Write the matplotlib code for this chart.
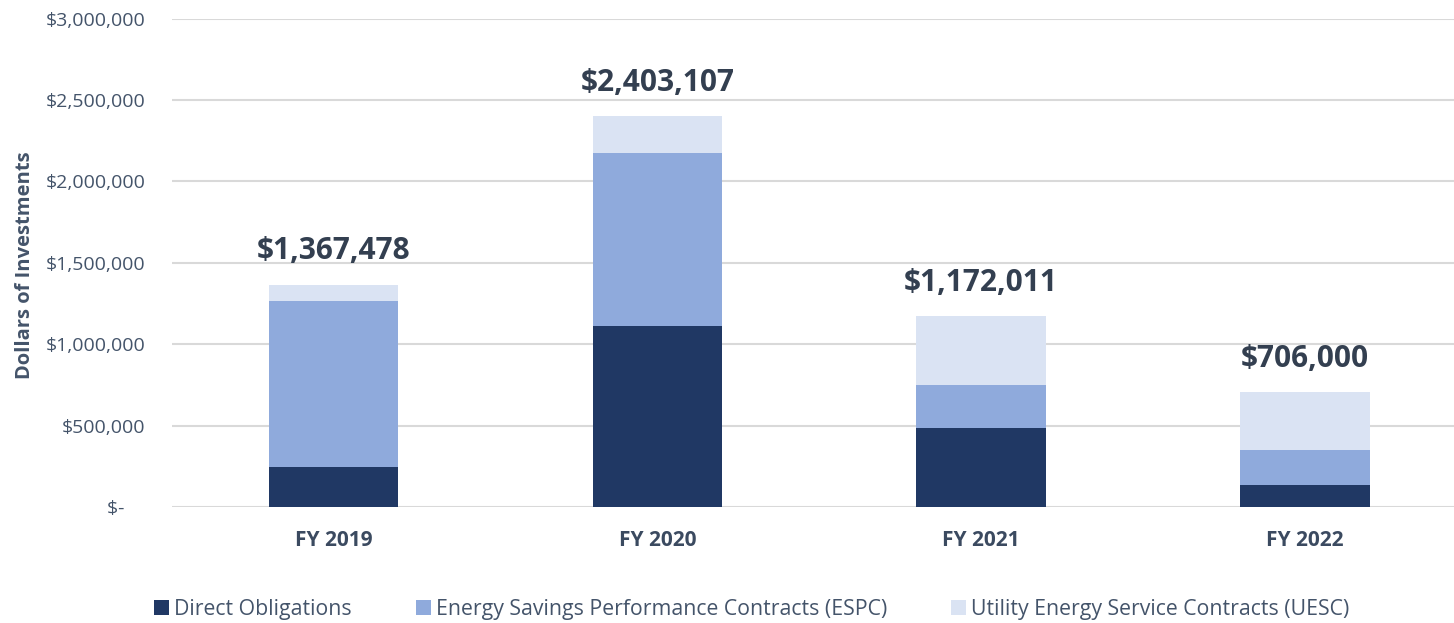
import matplotlib.pyplot as plt
import numpy as np

plt.rcParams['font.family'] = ['Open Sans', 'DejaVu Sans']

years = ['FY 2019', 'FY 2020', 'FY 2021', 'FY 2022']
direct = [249000, 1114000, 486000, 137000]
espc = [1020000, 1061000, 263000, 214000]
totals = [1367478, 2403107, 1172011, 706000]
# UESC is whatever is left to reach the reported total
uesc = [t - d - e for t, d, e in zip(totals, direct, espc)]

series_names = ['Direct Obligations',
                'Energy Savings Performance Contracts (ESPC)',
                'Utility Energy Service Contracts (UESC)']
colors = ['#203864', '#8FAADC', '#DAE3F3']
text_col = '#44546A'

fig = plt.figure(figsize=(14.54, 6.23), dpi=100)
ax = fig.add_axes([0.118, 0.1856, 0.882, 0.7847])

x = np.arange(len(years))
w = 0.4
ax.bar(x, direct, w, color=colors[0], label=series_names[0], zorder=3)
ax.bar(x, espc, w, bottom=direct, color=colors[1], label=series_names[1], zorder=3)
bottom2 = np.array(direct) + np.array(espc)
ax.bar(x, uesc, w, bottom=bottom2, color=colors[2], label=series_names[2], zorder=3)

for xi, t in zip(x, totals):
    ax.annotate(f'${t:,.0f}', (xi, t), xytext=(0, 13), textcoords='offset points',
                ha='center', va='bottom', fontsize=21.5, fontweight='bold', color='#333F50')

ax.set_ylim(0, 3000000)
ax.set_xlim(-0.5, 3.46)
yt = np.arange(0, 3000001, 500000)
ax.set_yticks(yt)
ax.set_yticklabels(['$-    '] + [f'${v:,.0f}' for v in yt[1:]], fontsize=14, color=text_col)
ax.set_xticks(x)
ax.set_xticklabels(years, fontsize=15, fontweight='bold', color='#3B4A60')
ax.tick_params(axis='both', length=0)
ax.tick_params(axis='y', pad=19)
ax.tick_params(axis='x', pad=16)
ax.grid(axis='y', color='#D9D9D9', linewidth=1.5, zorder=0)
for s in ax.spines.values():
    s.set_visible(False)

fig.text(0.017, 0.575, 'Dollars of Investments', rotation=90, ha='center', va='center',
         fontsize=14.5, fontweight='bold', color=text_col)

fig.legend(loc='center', bbox_to_anchor=(0.517, 0.022), ncol=3, frameon=False,
           fontsize=15.3, handlelength=0.7, handleheight=0.7, handletextpad=0.25,
           columnspacing=3.0, labelcolor=text_col)

fig.savefig('out.png', dpi=100)
